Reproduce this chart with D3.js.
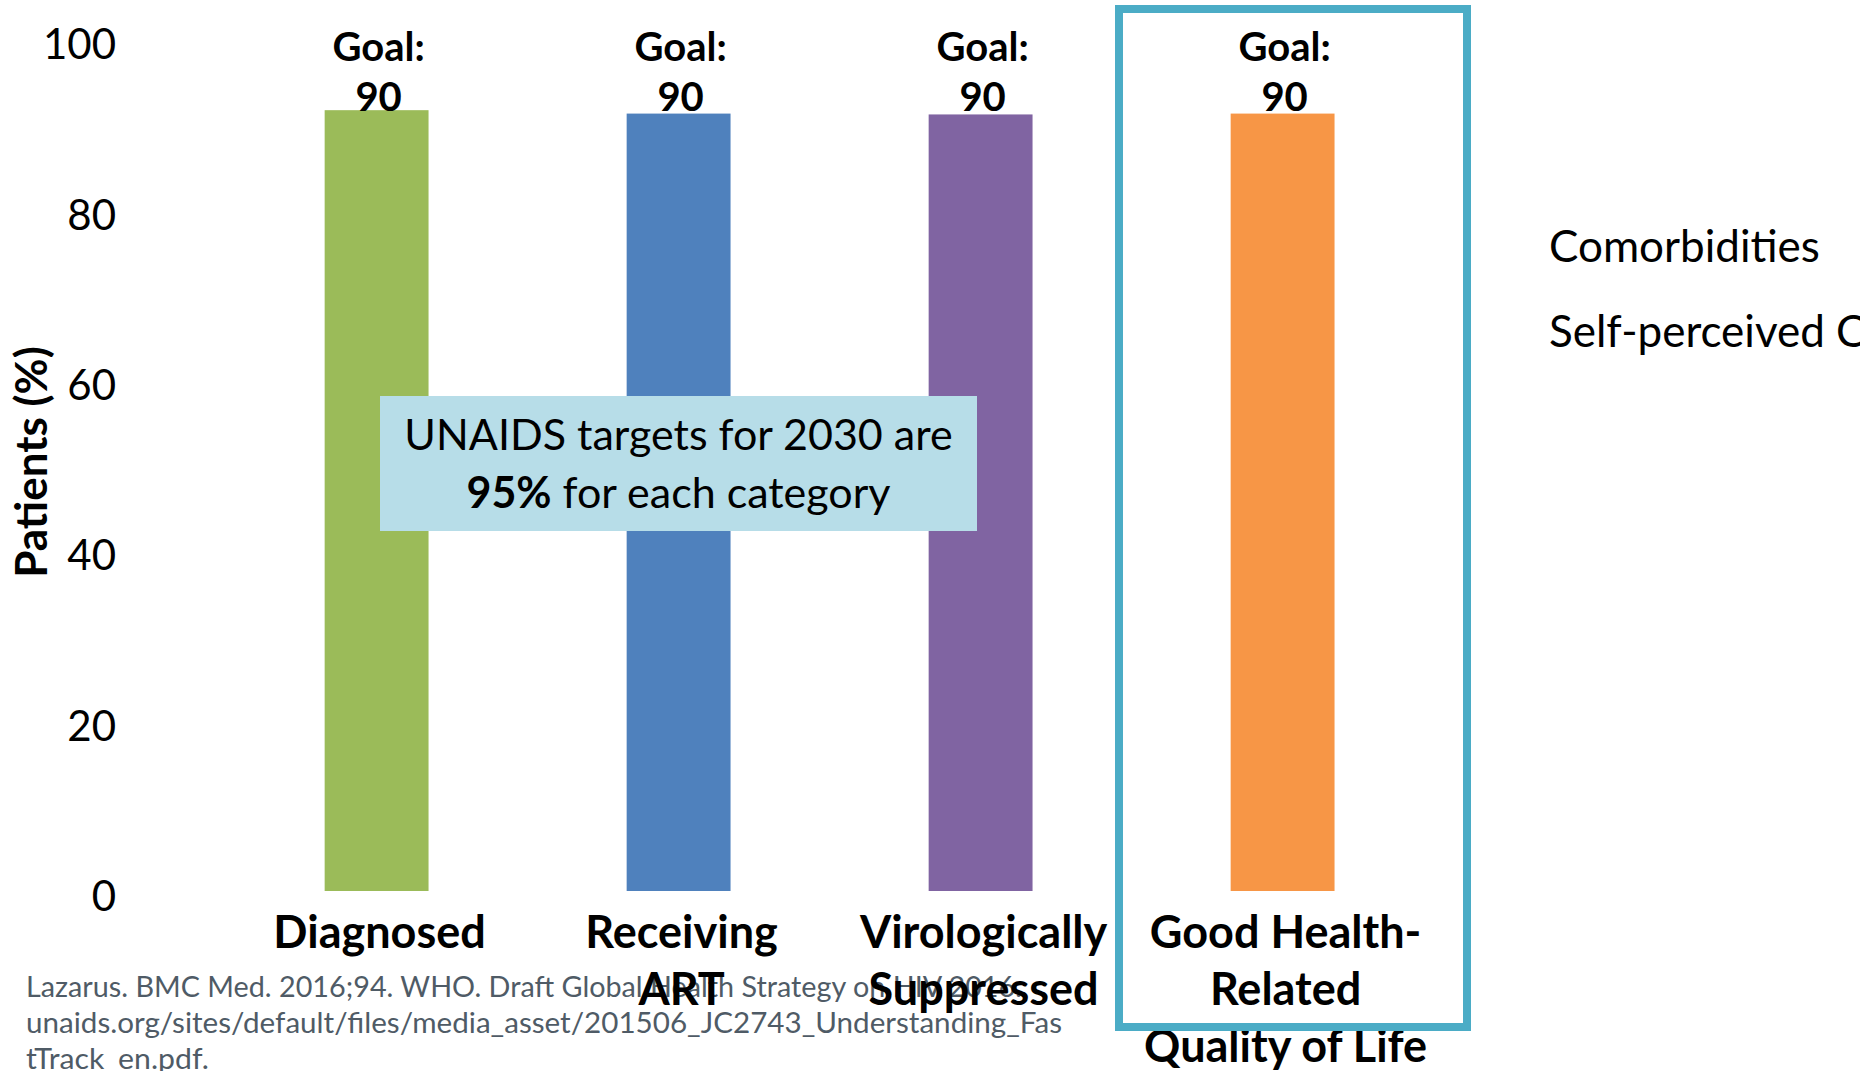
<!DOCTYPE html>
<html>
<head>
<meta charset="utf-8">
<script src="https://cdn.jsdelivr.net/npm/d3@7"></script>
<style>
    html, body { margin: 0; padding: 0; background: #fff; overflow: hidden; }
    svg { display: block; font-family: Lato, 'Open Sans', sans-serif; }
</style>
</head>
<body>
<div id="chart"></div>
<script>
    'use strict';

    // Data
    var categories = ['Diagnosed', 'Receiving ART', 'Virologically Suppressed', 'Good Health-Related Quality of Life'];
    var categoryLines = [
        ['Diagnosed'],
        ['Receiving', 'ART'],
        ['Virologically', 'Suppressed'],
        ['Good Health-', 'Related', 'Quality of Life']
    ];
    var values = [91.7, 91.3, 91.2, 91.3];
    var goals = [90, 90, 90, 90];
    var barColors = ['#9bbb59', '#4f81bd', '#8064a2', '#f79646'];
    var yTicks = [0, 20, 40, 60, 80, 100];
    var sideNotes = ['Comorbidities', 'Self-perceived C'];
    var footnote = [
        'Lazarus. BMC Med. 2016;94. WHO. Draft Global Health Strategy on HIV 2016.',
        'unaids.org/sites/default/files/media_asset/201506_JC2743_Understanding_Fas',
        'tTrack_en.pdf.'
    ];
    var footnoteLengths = [996, 1036, 183];

    var width = 1860,
        height = 1071;

    var svg = d3.select('#chart').append('svg')
        .attr('width', width)
        .attr('height', height);

    svg.append('rect')
        .attr('width', width)
        .attr('height', height)
        .attr('fill', '#fff');

    var x = d3.scaleBand()
        .domain(categories)
        .range([225.6, 1433.6])
        .paddingInner(0.656)
        .paddingOuter(0.328);

    var y = d3.scaleLinear()
        .domain([0, 100])
        .range([891, 39.5]);

    // footnote sits under the category labels
    svg.append('g')
        .attr('class', 'footnote')
        .selectAll('text')
        .data(footnote)
        .enter()
        .append('text')
        .attr('x', 26)
        .attr('y', function (d, i) { return 997 + i * 36; })
        .attr('fill', '#4f5b66')
        .attr('font-size', 29)
        .attr('textLength', function (d, i) { return footnoteLengths[i]; })
        .attr('lengthAdjust', 'spacingAndGlyphs')
        .text(function (d) { return d; });

    // y axis, labels only
    var yAxis = svg.append('g')
        .attr('transform', 'translate(126,0)')
        .call(d3.axisLeft(y).tickValues(yTicks).tickSize(0).tickPadding(10));
    yAxis.select('.domain').remove();
    yAxis.selectAll('text')
        .attr('font-family', 'Lato, sans-serif')
        .attr('font-size', 42)
        .attr('fill', '#000')
        .attr('dy', '0.46em');

    svg.append('text')
        .attr('transform', 'translate(47,462) rotate(-90)')
        .attr('text-anchor', 'middle')
        .attr('font-size', 44)
        .attr('font-weight', 'bold')
        .text('Patients (%)');

    // bars
    svg.append('g')
        .selectAll('rect')
        .data(values)
        .enter()
        .append('rect')
        .attr('x', function (d, i) { return x(categories[i]); })
        .attr('width', x.bandwidth())
        .attr('y', function (d) { return y(d); })
        .attr('height', function (d) { return y(0) - y(d); })
        .attr('fill', function (d, i) { return barColors[i]; });

    // goal labels
    var goal = svg.append('g')
        .selectAll('text')
        .data(goals)
        .enter()
        .append('text')
        .attr('text-anchor', 'middle')
        .attr('font-size', 40)
        .attr('font-weight', 'bold');
    goal.append('tspan')
        .attr('x', function (d, i) { return x(categories[i]) + x.bandwidth() / 2 + 2; })
        .attr('y', function (d) { return y(d) - 64; })
        .text('Goal:');
    goal.append('tspan')
        .attr('x', function (d, i) { return x(categories[i]) + x.bandwidth() / 2 + 2; })
        .attr('y', function (d) { return y(d) - 14; })
        .text(function (d) { return d; });

    // category labels
    var cat = svg.append('g')
        .selectAll('text')
        .data(categoryLines)
        .enter()
        .append('text')
        .attr('text-anchor', 'middle')
        .attr('font-size', 45)
        .attr('font-weight', 'bold');
    cat.each(function (lines, i) {
        var cx = x(categories[i]) + x.bandwidth() / 2 + 3;
        d3.select(this).selectAll('tspan')
            .data(lines)
            .enter()
            .append('tspan')
            .attr('x', cx)
            .attr('y', function (d, j) { return 948 + j * 57; })
            .text(function (d) { return d; });
    });

    // highlight frame round the last category
    svg.append('rect')
        .attr('x', 1119)
        .attr('y', 9)
        .attr('width', 348)
        .attr('height', 1018)
        .attr('fill', 'none')
        .attr('stroke', '#4bacc6')
        .attr('stroke-width', 8);

    // callout box
    svg.append('rect')
        .attr('x', 380)
        .attr('y', 396)
        .attr('width', 597)
        .attr('height', 135)
        .attr('fill', '#b7dde8');

    var callout = svg.append('text')
        .attr('text-anchor', 'middle')
        .attr('font-size', 43);
    callout.append('tspan')
        .attr('x', 678.5)
        .attr('y', 450)
        .text('UNAIDS targets for 2030 are');
    var line2 = callout.append('tspan')
        .attr('x', 678.5)
        .attr('y', 508);
    line2.append('tspan')
        .attr('font-weight', 'bold')
        .text('95%');
    line2.append('tspan')
        .text(' for each category');

    // notes on the right
    svg.append('g')
        .selectAll('text')
        .data(sideNotes)
        .enter()
        .append('text')
        .attr('x', 1549)
        .attr('y', function (d, i) { return 262 + i * 85; })
        .attr('font-size', 44)
        .text(function (d) { return d; });
</script>
</body>
</html>
